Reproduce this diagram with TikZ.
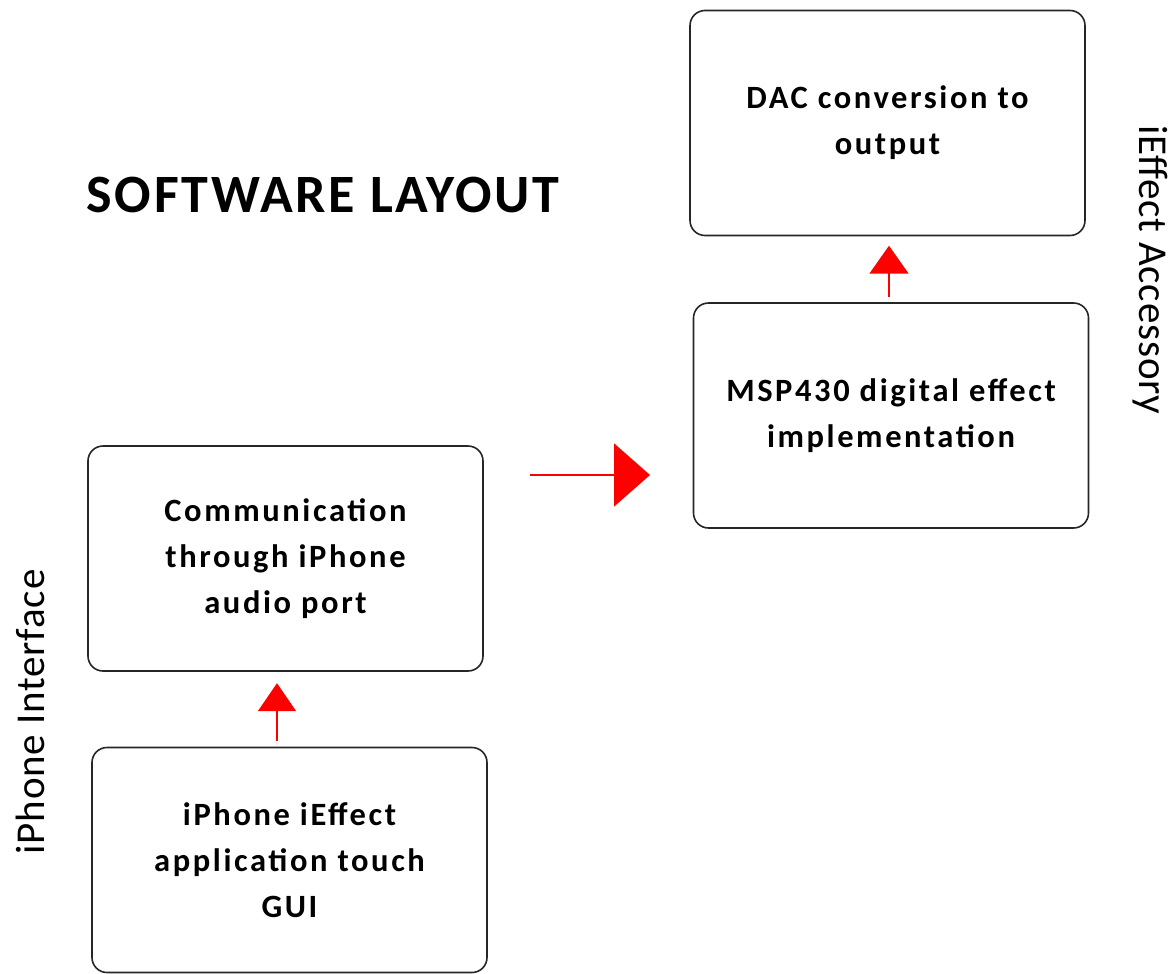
\documentclass[tikz,border=0pt]{standalone}
\usepackage{fontspec}
\setmainfont{Carlito}
\newfontfamily\boxfont[LetterSpace=8]{Carlito}
\newfontfamily\titlefont[LetterSpace=5]{Carlito}
\newfontfamily\sidefont[LetterSpace=2]{Carlito}
\usepackage{tikz}
\usetikzlibrary{positioning, arrows.meta, calc}
\tikzset{
    box/.style={ % Sets the properties for each block
        draw=black!85,
        line width=1.6pt,
        rounded corners=15pt,
        minimum width=395pt,
        minimum height=225pt,
        align=center,
        font=\boxfont\bfseries\fontsize{32.5}{46}\selectfont
    },
    sidelabel/.style={ % Rotated side texts
        font=\sidefont\fontsize{41}{48}\selectfont
    },
    rarrow/.style={ % Red connectors with big heads
        red,
        line width=1.8pt,
        -{Triangle[length=#1]}
    },
}
\begin{document}
\begin{tikzpicture}[x=1pt,y=-1pt]
            \useasboundingbox (0,0) rectangle (1175,974);
            \node[box] (dac)  at (887.5,123)   {DAC conversion to\\output};
            \node[box] (msp)  at (891,415.5)   {MSP430 digital effect\\implementation};
            \node[box] (comm) at (285.5,558.5) {Communication\\through iPhone\\audio port};
            \node[box] (gui)  at (289.5,860)   {iPhone iEffect\\application touch\\GUI};
            \node[font=\titlefont\bfseries\fontsize{54}{60}\selectfont] (title) at (323,195) {SOFTWARE LAYOUT};
            \node[sidelabel, rotate=90]  (iphone) at (30,712)   {iPhone Interface};
            \node[sidelabel, rotate=-90] (acc)    at (1150,270) {iEffect Accessory};
            \coordinate (a1) at (530,475);
            \coordinate (a2) at (650,475);
            \draw[rarrow={36pt,width=63pt}] (a1) -- (a2);
            \draw[rarrow={28pt,width=38pt}] ($(gui.north)+(-12.5,-6)$) -- ($(comm.north)+(-8.5,238)$);
            \draw[rarrow={28pt,width=39pt}] ($(msp.north)+(-2,-5)$)    -- ($(dac.north)+(1.5,236)$);
            %\draw[step=100,gray,very thin] (0,0) grid (1175,974);
\end{tikzpicture}
\end{document}
